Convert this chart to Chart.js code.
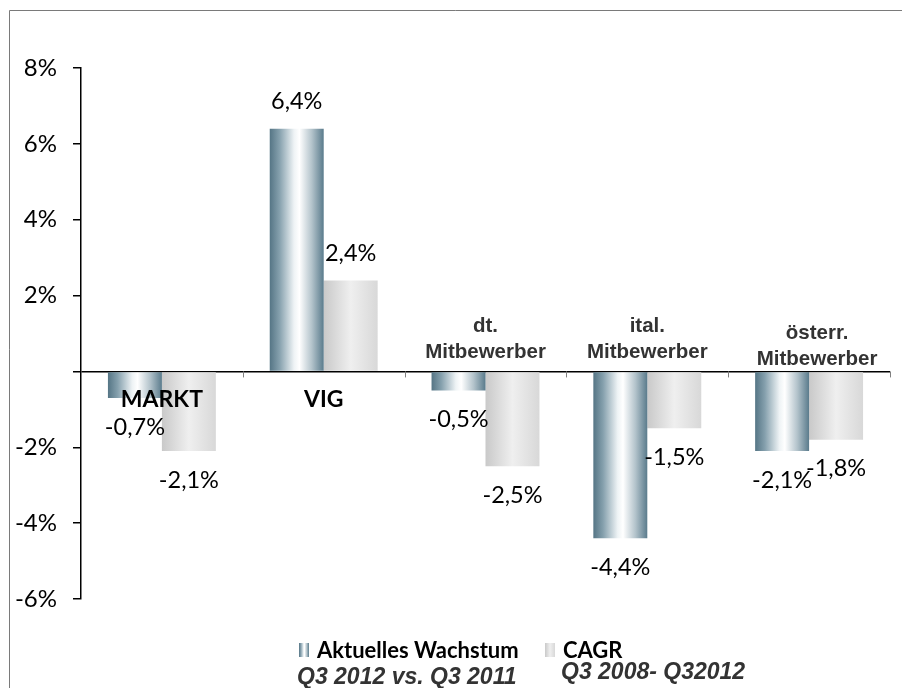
<!DOCTYPE html>
<html>
<head>
<meta charset="utf-8">
<script src="https://cdn.jsdelivr.net/npm/chart.js@4"></script>
<style>
  html, body { margin: 0; padding: 0; background: #fff; }
  #wrap { position: relative; width: 902px; height: 688px; }
</style>
</head>
<body>
<div id="wrap"><canvas id="chart" width="902" height="688"></canvas></div>
<script>
const categories = [["MARKT"], ["VIG"], ["dt.", "Mitbewerber"], ["ital.", "Mitbewerber"], ["österr.", "Mitbewerber"]]
const wachstum = [-0.7, 6.4, -0.5, -4.4, -2.1]
const cagr = [-2.1, 2.4, -2.5, -1.5, -1.8]
const seriesNames = ["Aktuelles Wachstum", "CAGR"]
const seriesSubs = ["Q3 2012 vs. Q3 2011", "Q3 2008- Q32012"]
const yTicks = [-6, -4, -2, 0, 2, 4, 6, 8]

const CAT_PCT = 0.667
const fmt = v => v.toFixed(1).replace(".", ",") + "%"

// horizontal "cylinder" gradient across one bar
function barGradient(c, left, stops) {
  const chart = c.chart
  const x = chart.scales.x
  if (!x || !chart.chartArea) return stops[0][1]
  const catW = x.width / categories.length
  const w = catW * CAT_PCT / 2
  const center = x.getPixelForValue(c.dataIndex)
  const x0 = left ? center - w : center
  const g = chart.ctx.createLinearGradient(x0, 0, x0 + w, 0)
  stops.forEach(s => g.addColorStop(s[0], s[1]))
  return g
}
const blueStops = [[0, "#557585"], [0.18, "#85a0ad"], [0.45, "#eef3f5"], [0.55, "#ffffff"], [0.78, "#b3c3cb"], [1, "#5a7b8c"]]
const grayStops = [[0, "#c9c9c9"], [0.5, "#efefef"], [1, "#d8d8d8"]]

const extras = {
  id: "extras",
  afterDraw(chart) {
    const ctx = chart.ctx
    const x = chart.scales.x
    const y = chart.scales.y
    const y0 = y.getPixelForValue(0)
    const catW = x.width / categories.length
    ctx.save()

    // frame
    ctx.strokeStyle = "#7a7a7a"
    ctx.lineWidth = 1
    ctx.beginPath()
    ctx.moveTo(9.5, 688)
    ctx.lineTo(9.5, 10.5)
    ctx.lineTo(902, 10.5)
    ctx.stroke()

    // category separator ticks
    ctx.strokeStyle = "#808080"
    for (let i = 1; i <= categories.length; i++) {
      const bx = Math.round(x.left + i * catW) + 0.5
      ctx.beginPath()
      ctx.moveTo(bx, y0)
      ctx.lineTo(bx, y0 + 6)
      ctx.stroke()
    }

    // value labels
    ctx.fillStyle = "#000"
    ctx.font = "23.5px Lato"
    ctx.textAlign = "center"
    ctx.textBaseline = "middle"
    chart.data.datasets.forEach((ds, di) => {
      chart.getDatasetMeta(di).data.forEach((bar, i) => {
        const v = ds.data[i]
        const ly = v >= 0 ? bar.y - 27 : bar.y + 29
        ctx.fillText(fmt(v), bar.x, ly)
      })
    })

    // category labels
    categories.forEach((lines, i) => {
      const cx = x.getPixelForValue(i)
      if (lines.length === 1) {
        ctx.font = "bold 23px Lato"
        ctx.fillStyle = "#000"
        ctx.fillText(lines[0], cx, y0 + 28)
      } else {
        ctx.font = "bold 20.5px 'Liberation Sans'"
        ctx.fillStyle = "#333"
        const shift = i === 4 ? 8 : 0
        const drop = i === 4 ? 7 : 0
        ctx.fillText(lines[0], cx + shift, y0 - 45 + drop)
        ctx.fillText(lines[1], cx + shift, y0 - 19 + drop)
      }
    })

    // legend
    const legendX = [313, 559]
    const subX = [297, 561]
    const subY = [684, 679]
    const stops = [blueStops, grayStops]
    ctx.textBaseline = "alphabetic"
    seriesNames.forEach((name, i) => {
      const lx = legendX[i]
      const g = ctx.createLinearGradient(lx - 14, 0, lx - 4, 0)
      stops[i].forEach(s => g.addColorStop(s[0], s[1]))
      ctx.fillStyle = g
      ctx.fillRect(lx - 14, 643, 10, 14)
      ctx.fillStyle = "#000"
      ctx.textAlign = "left"
      ctx.font = "bold 22px Lato"
      ctx.fillText(name, lx + 4, 658)
      ctx.fillStyle = "#333"
      ctx.font = "italic bold 23px 'Liberation Sans'"
      ctx.fillText(seriesSubs[i], subX[i], subY[i])
    })
    ctx.restore()
  }
}

new Chart(document.getElementById("chart"), {
  type: "bar",
  data: {
    labels: categories.map(c => c.join(" ")),
    datasets: [{
      label: seriesNames[0],
      data: wachstum,
      backgroundColor: c => barGradient(c, true, blueStops),
      barPercentage: 1,
      categoryPercentage: CAT_PCT
    }, {
      label: seriesNames[1],
      data: cagr,
      backgroundColor: c => barGradient(c, false, grayStops),
      barPercentage: 1,
      categoryPercentage: CAT_PCT
    }]
  },
  options: {
    responsive: false,
    animation: false,
    layout: { padding: { left: 0, top: 68, right: 12, bottom: 89 } },
    plugins: {
      legend: { display: false },
      tooltip: { enabled: false }
    },
    scales: {
      x: { display: false },
      y: {
        min: -6,
        max: 8,
        afterBuildTicks: s => { s.ticks = yTicks.map(v => ({ value: v })) },
        afterFit: s => { s.width = 81 },
        border: { color: "#000", width: 1.5 },
        grid: {
          drawOnChartArea: true,
          color: c => c.tick && c.tick.value === 0 ? "#000" : "rgba(0,0,0,0)",
          tickColor: "#000",
          tickLength: 8,
          lineWidth: 1.5
        },
        ticks: {
          color: "#000",
          font: { family: "Lato", size: 24 },
          padding: 16,
          callback: v => v === 0 ? "" : v + "%"
        }
      }
    }
  },
  plugins: [extras]
})
</script>
</body>
</html>
